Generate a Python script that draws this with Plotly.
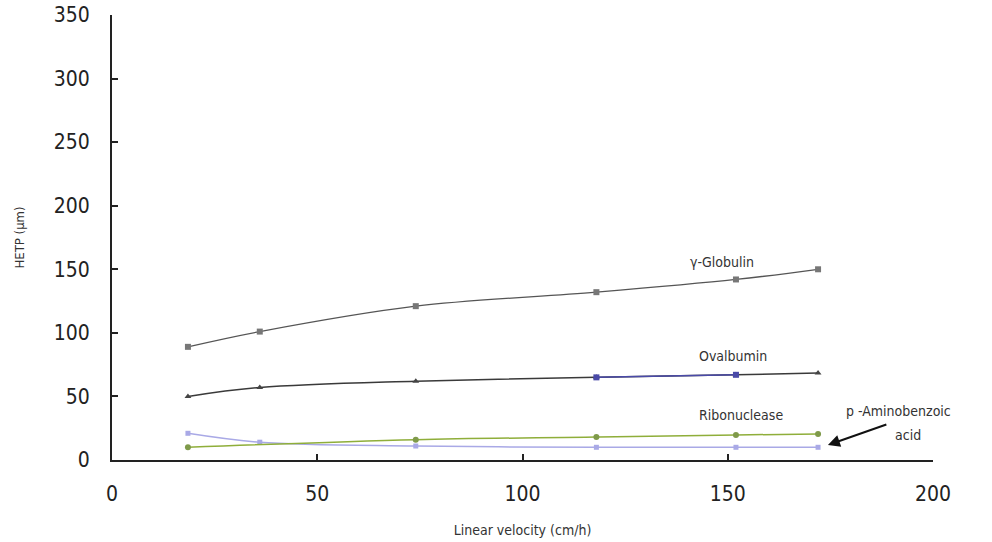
import plotly.graph_objects as go

# Linear velocity (cm/h)
velocity = [18.5, 36, 74, 118, 152, 172]
velocity_rnase = [18.5, 74, 118, 152, 172]

# HETP (um) per solute
hetp_globulin = [89, 101, 121, 132, 142, 150]
hetp_ovalbumin = [50, 57, 62, 65, 67, 68.5]
hetp_ribonuclease = [10, 16, 18, 19.7, 20.5]
hetp_paba = [21, 14, 11, 10, 10, 10]

FONT = "DejaVu Sans Condensed, Liberation Sans Narrow, Arial Narrow, sans-serif"

fig = go.Figure()

fig.add_trace(go.Scatter(
    x=velocity, y=hetp_paba, mode="lines+markers",
    line=dict(color="#a9a9e6", width=1.5, shape="spline"),
    marker=dict(symbol="square", size=5, color="#a9a9e6"),
    name="p-Aminobenzoic acid"))

fig.add_trace(go.Scatter(
    x=velocity_rnase, y=hetp_ribonuclease, mode="lines+markers",
    line=dict(color="#8fae3a", width=1.5, shape="spline"),
    marker=dict(symbol="circle", size=6, color="#7f9a4a"),
    name="Ribonuclease"))

fig.add_trace(go.Scatter(
    x=velocity, y=hetp_ovalbumin, mode="lines+markers",
    line=dict(color="#3a3a3a", width=1.5, shape="spline"),
    marker=dict(symbol="triangle-up", size=6, color="#444444"),
    name="Ovalbumin"))

# middle stretch of the ovalbumin curve drawn in blue
fig.add_trace(go.Scatter(
    x=velocity[3:5], y=hetp_ovalbumin[3:5], mode="lines+markers",
    line=dict(color="#4a4aa8", width=1.5),
    marker=dict(symbol="square", size=6, color="#4a4aa8"),
    name="Ovalbumin (blue)"))

fig.add_trace(go.Scatter(
    x=velocity, y=hetp_globulin, mode="lines+markers",
    line=dict(color="#555555", width=1.3, shape="spline"),
    marker=dict(symbol="square", size=6, color="#777777"),
    name="γ-Globulin"))

ann_font = dict(family=FONT, size=14, color="#333333")
fig.add_annotation(x=148.6, y=156, text="γ-Globulin", showarrow=False, font=ann_font)
fig.add_annotation(x=151.3, y=82, text="Ovalbumin", showarrow=False, font=ann_font)
fig.add_annotation(x=153.2, y=35.4, text="Ribonuclease", showarrow=False, font=ann_font)
fig.add_annotation(x=191.5, y=38.6, text="p -Aminobenzoic", showarrow=False, font=ann_font)
fig.add_annotation(x=194, y=19.7, text="acid", showarrow=False, font=ann_font)
fig.add_annotation(x=174.4, y=11.8, ax=189, ay=28.3, axref="x", ayref="y",
                   text="", showarrow=True, arrowhead=2, arrowsize=1.2,
                   arrowwidth=2, arrowcolor="#111111")

axis_common = dict(
    showline=True, linecolor="#222222", linewidth=2,
    ticks="inside", ticklen=6, tickwidth=1.5, tickcolor="#222222",
    showgrid=False, zeroline=False, automargin=False,
    tickfont=dict(family=FONT, size=21, color="#222222"),
)

fig.update_xaxes(
    range=[0, 200], tickvals=[0, 50, 100, 150, 200],
    ticklabelstandoff=14,
    title=dict(text="Linear velocity (cm/h)", standoff=20,
               font=dict(family=FONT, size=14, color="#333333")),
    **axis_common)
fig.update_yaxes(
    range=[0, 350], tickvals=[0, 50, 100, 150, 200, 250, 300, 350],
    ticklabelstandoff=16,
    title=dict(text="HETP (μm)", standoff=26,
               font=dict(family=FONT, size=13, color="#333333")),
    **axis_common)

fig.update_layout(
    width=992, height=542,
    margin=dict(l=112, r=59, t=15, b=82),
    paper_bgcolor="white", plot_bgcolor="white",
    showlegend=False,
)

fig.write_html("out.html")
